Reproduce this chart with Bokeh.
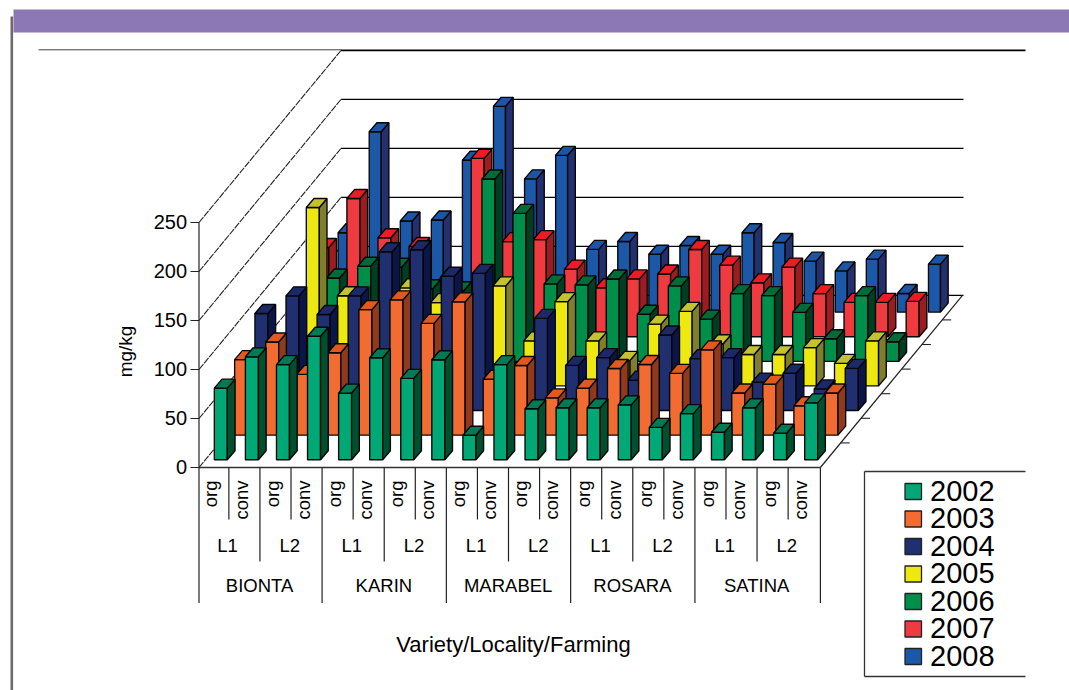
from bokeh.plotting import figure
from bokeh.embed import file_html
from bokeh.resources import INLINE
from bokeh.core.properties import value
import math

years = ["2002", "2003", "2004", "2005", "2006", "2007", "2008"]
varieties = ["BIONTA", "KARIN", "MARABEL", "ROSARA", "SATINA"]
localities = ["L1", "L2"]
farming = ["org", "conv"]
value_ticks = [0, 50, 100, 150, 200, 250]

v2002 = [73, 105, 97, 126, 68, 104, 83, 102, 25, 97, 52, 53, 53, 56, 33, 47, 28, 53, 27, 58]
v2003 = [77, 95, 62, 84, 128, 138, 114, 136, 57, 71, 38, 48, 68, 72, 63, 87, 43, 52, 30, 43]
v2004 = [99, 117, 98, 117, 162, 164, 137, 140, 40, 94, 46, 54, 31, 77, 53, 54, 29, 38, 22, 43]
v2005 = [40, 182, 92, 60, 100, 85, 50, 102, 46, 86, 46, 26, 63, 76, 43, 32, 32, 39, 23, 46]
v2006 = [60, 85, 97, 96, 74, 72, 186, 151, 79, 78, 84, 48, 77, 43, 69, 67, 50, 23, 67, 20]
v2007 = [91, 141, 101, 92, 60, 182, 97, 99, 69, 50, 59, 64, 89, 73, 55, 71, 44, 35, 35, 36]
v2008 = [81, 184, 93, 94, 155, 210, 136, 160, 64, 72, 59, 68, 59, 81, 71, 52, 42, 54, 19, 49]
series = [v2002, v2003, v2004, v2005, v2006, v2007, v2008]

front_colors = ["#00A875", "#F26C32", "#1F2F6F", "#EDE80F", "#008F4A", "#EF3A40", "#1C58A8"]
side_colors = ["#004F2E", "#8F3A1C", "#0C1548", "#7E7E2E", "#003E22", "#9B1D20", "#22306E"]
top_colors = ["#007A55", "#E05A20", "#1B2A66", "#C5C232", "#006A38", "#ED1C24", "#1C55A5"]

# scale: one category = 31.07 px, one mg/kg = 0.98 px; pixel helpers for furniture
CAT = 31.07
UNIT = 0.98
X0, Y0 = 198.5, 467.0
W, H = 1069, 690
def X(px):
    return (px - X0) / CAT
def Y(py):
    return (Y0 - py) / UNIT

ROW_DX = 20.3 / CAT      # depth step, categories
ROW_DY = 24.6 / UNIT     # depth step, mg/kg
BAR_W = 13 / CAT
SIDE_DX = 7.7 / CAT
SIDE_DY = 9 / UNIT
N = len(v2002)
R = len(years)

p = figure(width=W, height=H, x_range=(X(0), X(W)), y_range=(Y(H), Y(0)),
           output_backend="svg", toolbar_location=None, min_border=0)
p.axis.visible = False
p.grid.visible = False
p.outline_line_color = None
p.background_fill_color = "white"
p.border_fill_color = "white"

FONT = value("Liberation Sans")
INK = "#000000"

# page furniture
p.quad(left=[X(13)], right=[X(W)], top=[Y(9)], bottom=[Y(32)], fill_color="#8C78B4", line_color=None)
p.quad(left=[X(10)], right=[X(12.6)], top=[Y(16)], bottom=[Y(H)], fill_color="#6B6B6B", line_color=None)
p.segment([X(38)], [Y(49.3)], [X(341)], [Y(49.3)], line_color="#444444", line_width=1)

# back wall, left wall and floor
depth_x = R * ROW_DX
depth_y = R * ROW_DY
for t in value_ticks:
    end = X(963)
    if t == 250:
        end = X(1025)
    p.segment([depth_x], [t + depth_y], [end], [t + depth_y], line_color="#000000",
              line_width=1.8 if t == 250 else 1.2)
    p.segment([0], [t], [depth_x], [t + depth_y], line_color="#222222", line_width=1.1, line_dash="7 1")
    p.segment([X(190)], [t], [0], [t], line_color="#222222", line_width=1.1)
p.text(x=[X(186.5)] * 6, y=[t + 1 for t in value_ticks], text=[str(t) for t in value_ticks], text_font=FONT,
       text_font_size="20px", text_align="right", text_baseline="middle", text_color=INK)
p.segment([0], [0], [0], [250], line_color="#222222", line_width=1.2)
p.segment([0], [0], [N], [0], line_color="#333333", line_width=1.5)
p.segment([N], [0], [N + depth_x], [depth_y], line_color="#222222", line_width=1.2)
for j in range(1, R):
    fx = N + j * ROW_DX
    fy = j * ROW_DY
    p.segment([fx], [fy], [fx + 9 / CAT], [fy], line_color="#222222", line_width=1.1)

# bars, back row first
xs, ys, fills = [], [], []
for j in range(R - 1, -1, -1):
    base = j * ROW_DY + ROW_DY / 2 - SIDE_DY / 2
    # the rearmost row is drawn a little narrower in the original
    bw = BAR_W - (1 / CAT if j == R - 1 else 0)
    nudge = 2 / CAT if j == R - 1 else 0
    for i in range(N):
        v = series[j][i]
        left = i + 0.5 + (j + 0.5) * ROW_DX - (BAR_W + SIDE_DX) / 2 + nudge
        right = left + bw
        top = base + v
        xs.append([left, right, right, left]); ys.append([base, base, top, top]); fills.append(front_colors[j])
        xs.append([right, right + SIDE_DX, right + SIDE_DX, right])
        ys.append([base, base + SIDE_DY, top + SIDE_DY, top]); fills.append(side_colors[j])
        xs.append([left, right, right + SIDE_DX, left + SIDE_DX])
        ys.append([top, top, top + SIDE_DY, top + SIDE_DY]); fills.append(top_colors[j])
p.patches(xs, ys, fill_color=fills, line_color="#050505", line_width=1.35)

# multi-level category axis
SHIFT = 1.2 / CAT
for k in range(N + 1):
    if k % 4 == 0:
        bottom = 602.5
    elif k % 2 == 0:
        bottom = 561
    else:
        bottom = 519
    off = SHIFT if 0 < k < N else 0
    p.segment([k - off], [0], [k - off], [Y(bottom)], line_color="#222222", line_width=1.2)
for k in range(N):
    p.text(x=[k + 0.36], y=[Y(480)], text=[farming[k % 2]], angle=[math.pi / 2], text_font=FONT,
           text_font_size="18.5px", text_align="right", text_baseline="middle", text_color=INK)
for k in range(N // 2):
    p.text(x=[2 * k + 1 - 0.08], y=[Y(545)], text=[localities[k % 2]], text_font=FONT,
           text_font_size="18.5px", text_align="center", text_baseline="middle", text_color=INK)
for k, name in enumerate(varieties):
    p.text(x=[4 * k + 2 - 0.05], y=[Y(585)], text=[name], text_font=FONT,
           text_font_size="18.5px", text_align="center", text_baseline="middle", text_color=INK)
p.text(x=[X(513)], y=[Y(644)], text=["Variety/Locality/Farming"], text_font=FONT,
       text_font_size="22px", text_align="center", text_baseline="middle", text_color=INK)
p.text(x=[X(125)], y=[Y(351)], text=["mg/kg"], angle=[math.pi / 2], text_font=FONT,
       text_font_size="19px", text_align="center", text_baseline="middle", text_color=INK)

# legend
p.segment([X(1025), X(864), X(864)], [Y(471), Y(471), Y(676)], [X(864), X(864), X(1025)],
          [Y(471), Y(676), Y(676)], line_color="#333333", line_width=1.3)
for j, y in enumerate(years):
    cy = 491 + j * 27.5
    p.quad(left=[X(904.5)], right=[X(921)], top=[Y(cy - 8)], bottom=[Y(cy + 8)],
           fill_color=front_colors[j], line_color="#222222", line_width=1.3)
    p.text(x=[X(929.5)], y=[Y(cy - 1)], text=[y], text_font=FONT, text_font_size="29px",
           text_align="left", text_baseline="middle", text_color=INK)

open("out.html", "w").write(file_html(p, INLINE))
